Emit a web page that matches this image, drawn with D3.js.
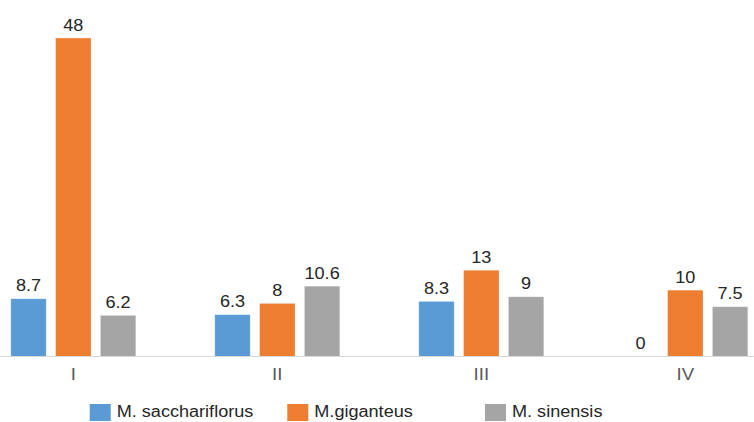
<!DOCTYPE html>
<html>
<head>
<meta charset="utf-8">
<script src="https://cdn.jsdelivr.net/npm/d3@7"></script>
<style>
  html, body { margin: 0; padding: 0; background: #fff; }
  svg { display: block; }
  text { font-family: "Liberation Sans", Arial, sans-serif; }
</style>
</head>
<body>
<svg id="chart" width="754" height="422"></svg>
<script>
// Categories and series values
const categories = ["I", "II", "III", "IV"];
const seriesNames = ["M. sacchariflorus", "M.giganteus", "M. sinensis"];
const saccharifloriusValues = [8.7, 6.3, 8.3, 0];
const giganteusValues = [48, 8, 13, 10];
const sinensisValues = [6.2, 10.6, 9, 7.5];
const seriesColors = ["#5B9BD5", "#ED7D31", "#A5A5A5"];

const seriesValues = [saccharifloriusValues, giganteusValues, sinensisValues];

const W = 754, H = 422;
const svg = d3.select("#chart");
// Text is set a little wider than the font's natural proportions
const textStretch = 1.13;

function widen(sel) {
  sel.each(function() {
    const w = this.getComputedTextLength();
    if (w > 0) {
      d3.select(this)
        .attr("textLength", (w * textStretch).toFixed(2))
        .attr("lengthAdjust", "spacingAndGlyphs");
    }
  });
}

// Group scale: one band per category
const groupStep = 204;
const x0 = d3.scaleBand()
  .domain(categories)
  .range([-28.7, -28.7 + groupStep * categories.length])
  .padding(0);

// Bars inside each group
const innerWidth = 134.4;
const x1 = d3.scaleBand()
  .domain(seriesNames)
  .range([0, innerWidth])
  .paddingInner(0.21)
  .paddingOuter(0.105);

const y = d3.scaleLinear().domain([0, 48]).range([356.5, 38]);

const groupOffset = c => x0(c) + x0.bandwidth() / 2 - innerWidth / 2;

// Bars
const rows = [];
categories.forEach((c, ci) => {
  seriesNames.forEach((s, si) => {
    rows.push({ cat: c, series: s, si, value: seriesValues[si][ci] });
  });
});

svg.append("g").selectAll("rect")
  .data(rows)
  .join("rect")
  .attr("x", d => groupOffset(d.cat) + x1(d.series))
  .attr("y", d => y(d.value))
  .attr("width", x1.bandwidth())
  .attr("height", d => y(0) - y(d.value))
  .attr("fill", d => seriesColors[d.si])
  .attr("stroke", "#fff")
  .attr("stroke-opacity", 0.35)
  .attr("stroke-width", 0.75);

// Value labels
svg.append("g").selectAll("text")
  .data(rows)
  .join("text")
  .attr("x", d => groupOffset(d.cat) + x1(d.series) + x1.bandwidth() / 2)
  .attr("y", d => y(d.value) - 7.5)
  .attr("text-anchor", "middle")
  .attr("font-size", 16)
  .attr("fill", "#262626")
  .text(d => d.value)
  .call(widen);

// Category axis
const axisG = svg.append("g");
axisG.append("line")
  .attr("x1", 0).attr("x2", W)
  .attr("y1", y(0)).attr("y2", y(0))
  .attr("stroke", "#D9D9D9")
  .attr("stroke-width", 1);

axisG.selectAll("text.cat")
  .data(categories)
  .join("text")
  .attr("class", "cat")
  .attr("x", c => x0(c) + x0.bandwidth() / 2)
  .attr("y", y(0) + 23)
  .attr("text-anchor", "middle")
  .attr("font-size", 16.5)
  .attr("fill", "#595959")
  .text(c => c)
  .call(widen);

// Legend
const legendX = [89.7, 287.3, 485];
const legendY = 404;
const legend = svg.append("g");

legend.selectAll("rect")
  .data(seriesNames)
  .join("rect")
  .attr("x", (d, i) => legendX[i])
  .attr("y", legendY)
  .attr("width", 21)
  .attr("height", 17)
  .attr("fill", (d, i) => seriesColors[i]);

legend.selectAll("text")
  .data(seriesNames)
  .join("text")
  .attr("x", (d, i) => legendX[i] + 27)
  .attr("y", legendY + 12.7)
  .attr("font-size", 16)
  .attr("fill", "#262626")
  .text(d => d)
  .call(widen);
</script>
</body>
</html>
